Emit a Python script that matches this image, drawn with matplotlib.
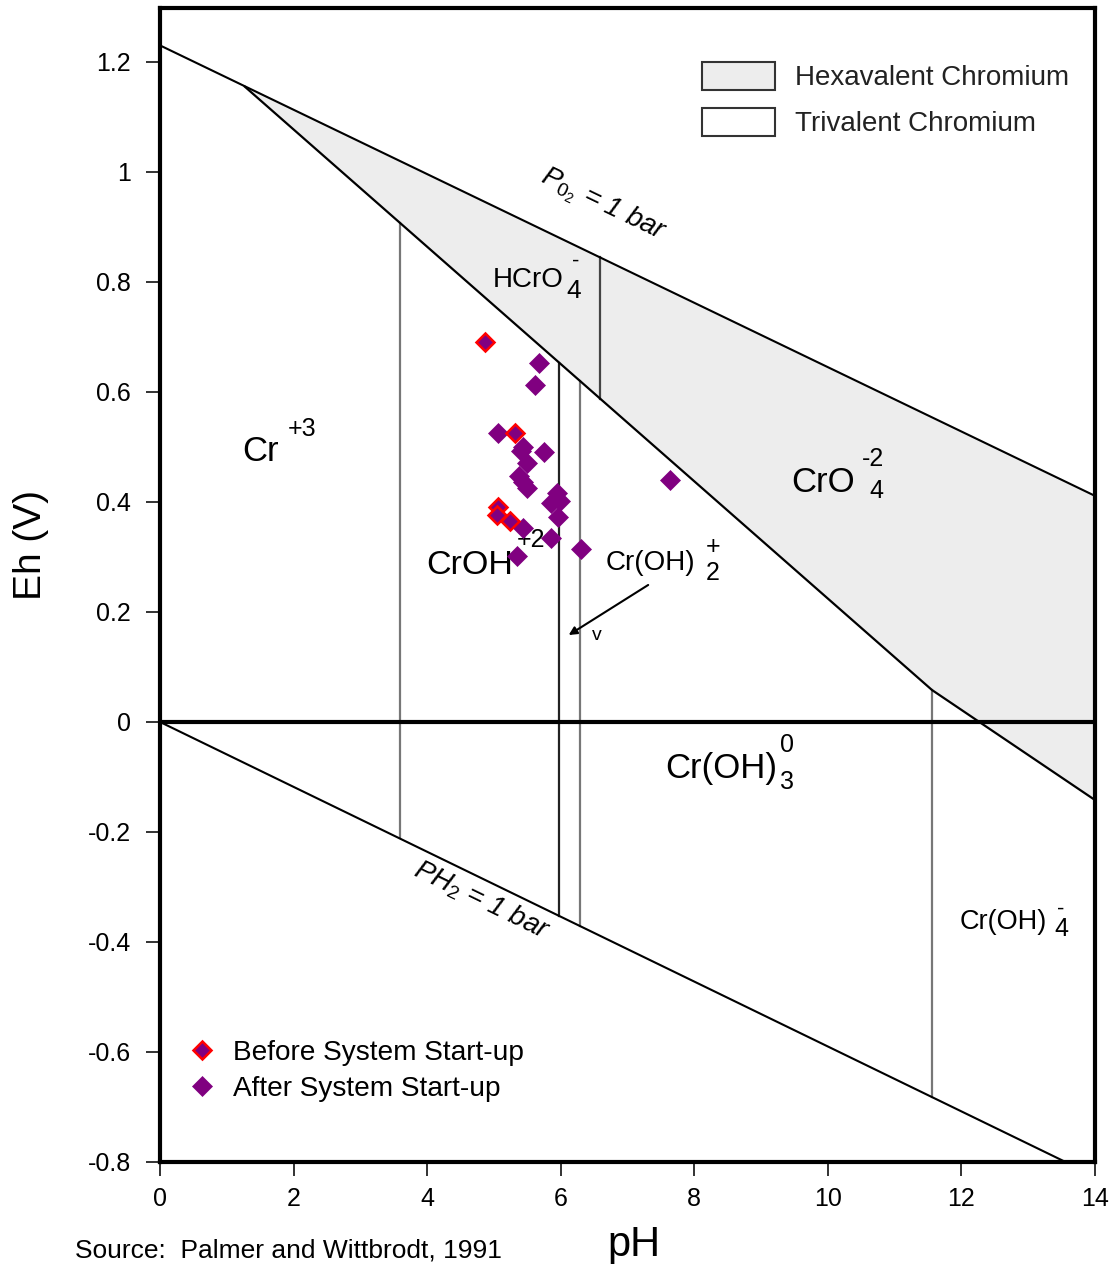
import numpy as np
import matplotlib
matplotlib.use("Agg")
import matplotlib.pyplot as plt
from matplotlib.patches import Patch
from matplotlib.lines import Line2D

# ---- data -----------------------------------------------------------------
# Water stability limits (Eh in volts as a function of pH)
o2_intercept, o2_slope = 1.23, -0.0585      # P_O2 = 1 bar
h2_intercept, h2_slope = 0.0, -0.059        # P_H2 = 1 bar

# Lower edge of the hexavalent field (Cr(VI) / Cr(III) boundary)
cr6_edge_ph = [1.27, 11.56, 14.0]
cr6_edge_eh = [1.155, 0.058, -0.142]

# Vertical boundaries inside the trivalent field
cr3_bound_ph = [3.59, 5.98, 6.29, 11.56]
# Vertical boundary between HCrO4- and CrO4-2
cr6_bound_ph = 6.59

# Field measurements (pH, Eh)
before_ph = [4.86, 5.31, 5.06, 5.05, 5.24]
before_eh = [0.691, 0.525, 0.391, 0.376, 0.365]

after_ph = [5.68, 5.62, 5.06, 5.44, 5.41, 5.75, 5.49, 5.38, 5.44, 5.50,
            5.95, 5.99, 5.85, 5.96, 5.44, 5.85, 5.34, 6.31, 7.63]
after_eh = [0.652, 0.613, 0.525, 0.499, 0.493, 0.491, 0.470, 0.447, 0.437, 0.426,
            0.417, 0.401, 0.398, 0.372, 0.352, 0.335, 0.301, 0.315, 0.440]

x_ticks = [0, 2, 4, 6, 8, 10, 12, 14]
y_ticks = [1.2, 1.0, 0.8, 0.6, 0.4, 0.2, 0.0, -0.2, -0.4, -0.6, -0.8]
y_tick_labels = ["1.2", "1", "0.8", "0.6", "0.4", "0.2", "0", "-0.2", "-0.4", "-0.6", "-0.8"]

# ---- fonts ------------------------------------------------------------------
plt.rcParams["font.family"] = ["Liberation Sans", "DejaVu Sans"]
plt.rcParams["mathtext.fontset"] = "custom"
plt.rcParams["mathtext.it"] = "Liberation Sans:italic"
plt.rcParams["mathtext.rm"] = "Liberation Sans"

HEX_FILL = "#ededed"
PURPLE = "#800080"

fig = plt.figure(figsize=(11.17, 12.64), dpi=100)
ax = fig.add_axes([0.1432, 0.0807, 0.8371, 0.9130])
ax.set_xlim(0, 14)
ax.set_ylim(-0.8, 1.298)

ph = np.linspace(0, 14, 200)
o2 = o2_intercept + o2_slope * ph
h2 = h2_intercept + h2_slope * ph

def o2_at(p):
    return o2_intercept + o2_slope * np.asarray(p)

def h2_at(p):
    return h2_intercept + h2_slope * np.asarray(p)

def cr6_edge_at(p):
    return np.interp(p, cr6_edge_ph, cr6_edge_eh)

# Hexavalent chromium field
ph6 = np.linspace(cr6_edge_ph[0], 14, 300)
ax.fill_between(ph6, cr6_edge_at(ph6), o2_at(ph6), color=HEX_FILL, lw=0, zorder=1)
ax.plot(cr6_edge_ph, cr6_edge_eh, color="black", lw=1.6, zorder=3)

# Water stability lines
ax.plot(ph, o2, color="black", lw=1.5, zorder=3)
ax.plot(ph, h2, color="black", lw=1.5, zorder=3)

# Eh = 0 reference
ax.axhline(0, color="black", lw=3, zorder=4)

# Species boundaries
for i, p in enumerate(cr3_bound_ph):
    col = "#222222" if i == 1 else "#777777"
    ax.plot([p, p], [cr6_edge_at(p), h2_at(p)], color=col, lw=1.6, zorder=2)
ax.plot([cr6_bound_ph, cr6_bound_ph], [o2_at(cr6_bound_ph), cr6_edge_at(cr6_bound_ph)],
        color="#444444", lw=1.6, zorder=2)

# Field labels
big = 25
ax.text(1.50, 0.491, "Cr", fontsize=big, ha="center", va="center")
ax.text(2.13, 0.533, "+3", fontsize=18, ha="center", va="center")
ax.text(4.64, 0.285, "CrOH", fontsize=24.5, ha="center", va="center")
ax.text(5.56, 0.331, "+2", fontsize=18, ha="center", va="center")
ax.text(5.52, 0.804, "HCrO", fontsize=20, ha="center", va="center")
ax.text(6.23, 0.838, "-", fontsize=16, ha="center", va="center")
ax.text(6.20, 0.783, "4", fontsize=19, ha="center", va="center")
ax.text(9.93, 0.436, "CrO", fontsize=big, ha="center", va="center")
ax.text(10.67, 0.478, "-2", fontsize=18, ha="center", va="center")
ax.text(10.72, 0.420, "4", fontsize=18, ha="center", va="center")
ax.text(7.35, 0.289, "Cr(OH)", fontsize=20, ha="center", va="center")
ax.text(8.28, 0.318, "+", fontsize=18, ha="center", va="center")
ax.text(8.28, 0.271, "2", fontsize=18, ha="center", va="center")
ax.text(8.40, -0.084, "Cr(OH)", fontsize=big, ha="center", va="center")
ax.text(9.39, -0.042, "0", fontsize=18, ha="center", va="center")
ax.text(9.39, -0.109, "3", fontsize=18, ha="center", va="center")
ax.text(12.62, -0.364, "Cr(OH)", fontsize=19.5, ha="center", va="center")
ax.text(13.49, -0.340, "-", fontsize=16, ha="center", va="center")
ax.text(13.49, -0.377, "4", fontsize=18, ha="center", va="center")

# Line labels, rotated along their lines
fig.canvas.draw()
def screen_angle(slope):
    p0 = ax.transData.transform((0, 0))
    p1 = ax.transData.transform((1, slope))
    return np.degrees(np.arctan2(p1[1] - p0[1], p1[0] - p0[0]))

ax.text(6.63, 0.94, r"$P_{0_2}$ = 1 bar", fontsize=20, style="italic",
        rotation=screen_angle(o2_slope), ha="center", va="center")
ax.text(4.82, -0.324, r"$PH_2$ = 1 bar", fontsize=20, style="italic",
        rotation=screen_angle(h2_slope), ha="center", va="center")

# Arrow pointing at the narrow Cr(OH)2+ field
ax.annotate("", xy=(6.12, 0.158), xytext=(7.31, 0.249),
            arrowprops=dict(arrowstyle="-|>", color="black", lw=1.5,
                            mutation_scale=12, shrinkA=0, shrinkB=0))
ax.text(6.54, 0.158, "v", fontsize=14, ha="center", va="center")

# Measurements
ax.plot(after_ph, after_eh, ls="none", marker="D", ms=10, mfc=PURPLE,
        mec=PURPLE, mew=0.5, zorder=6)
ax.plot(before_ph, before_eh, ls="none", marker="D", ms=9.5, mfc=PURPLE,
        mec="red", mew=1.8, zorder=7)

# Legends
field_handles = [Patch(facecolor=HEX_FILL, edgecolor="#333333", lw=1.5, label="Hexavalent Chromium"),
                 Patch(facecolor="white", edgecolor="#333333", lw=1.5, label="Trivalent Chromium")]
leg1 = ax.legend(handles=field_handles, loc="upper left", bbox_to_anchor=(0.5797, 0.953),
                 frameon=False, fontsize=20, handlelength=2.63, handleheight=1.15,
                 handletextpad=0.72, labelspacing=0.6, borderpad=0, borderaxespad=0,
                 labelcolor="#222222")
ax.add_artist(leg1)

point_handles = [Line2D([], [], ls="none", marker="D", ms=9.5, mfc=PURPLE, mec="red", mew=1.8,
                        label="Before System Start-up"),
                 Line2D([], [], ls="none", marker="D", ms=10, mfc=PURPLE, mec=PURPLE, mew=0.5,
                        label="After System Start-up")]
ax.legend(handles=point_handles, loc="upper left", bbox_to_anchor=(0.030, 0.106),
          frameon=False, fontsize=20.2, handlelength=1.0, handletextpad=0.62,
          labelspacing=0.37, borderpad=0, borderaxespad=0)

# Axes styling
for s in ax.spines.values():
    s.set_linewidth(3)
ax.set_xticks(x_ticks)
ax.set_xticklabels([str(v) for v in x_ticks], fontsize=18)
ax.set_yticks(y_ticks)
ax.set_yticklabels(y_tick_labels, fontsize=18)
ax.tick_params(axis="both", direction="out", length=10, width=1.3, color="#222222")
ax.tick_params(axis="y", pad=11)
ax.tick_params(axis="x", pad=8)
ax.set_xlabel("pH", fontsize=30)
ax.xaxis.set_label_coords(0.507, -0.055)
ax.set_ylabel("Eh (V)", fontsize=28)
ax.yaxis.set_label_coords(-0.119, 0.535)

fig.text(0.067, 0.011, "Source:  Palmer and Wittbrodt, 1991", fontsize=19,
         ha="left", va="center")

fig.savefig("out.png", dpi=100)
